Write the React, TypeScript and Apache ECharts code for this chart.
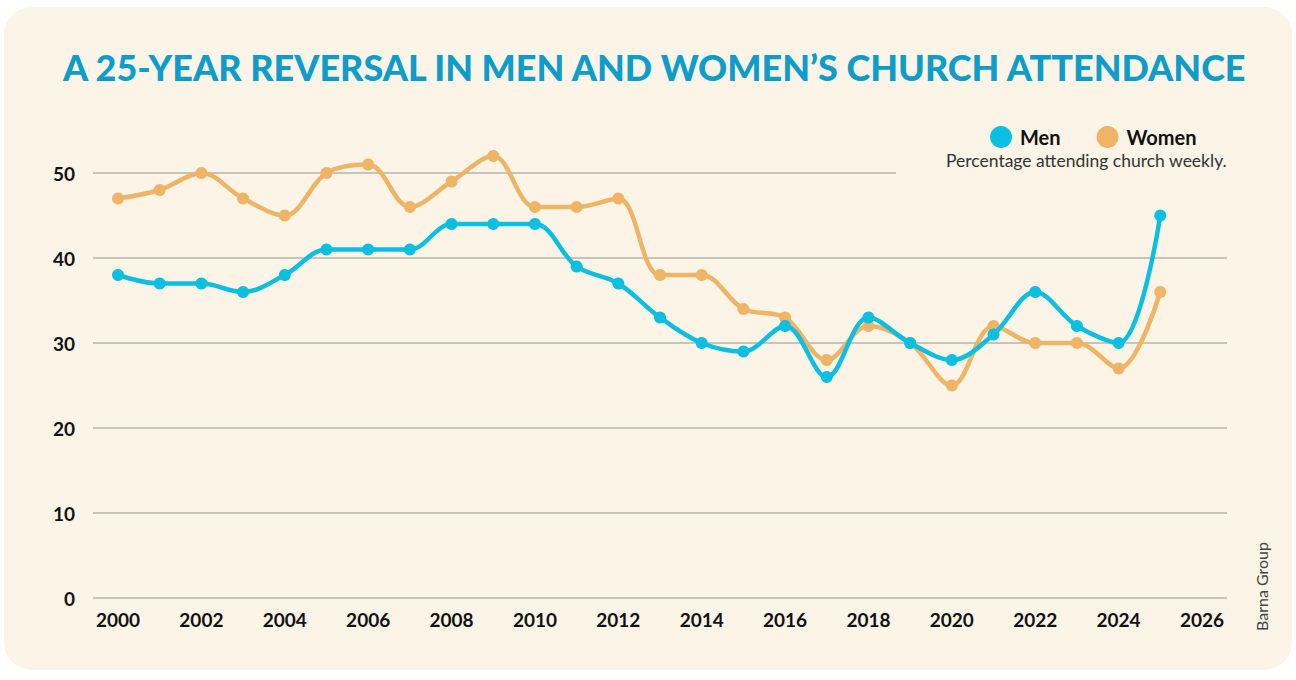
import React, { useEffect, useRef } from "react";
import * as echarts from "echarts";

const years = [2000, 2001, 2002, 2003, 2004, 2005, 2006, 2007, 2008, 2009, 2010, 2011, 2012, 2013, 2014, 2015, 2016, 2017, 2018, 2019, 2020, 2021, 2022, 2023, 2024, 2025];
const men = [38, 37, 37, 36, 38, 41, 41, 41, 44, 44, 44, 39, 37, 33, 30, 29, 32, 26, 33, 30, 28, 31, 36, 32, 30, 45];
const women = [47, 48, 50, 47, 45, 50, 51, 46, 49, 52, 46, 46, 47, 38, 38, 34, 33, 28, 32, 30, 25, 32, 30, 30, 27, 36];
const xTickLabels = [2000, 2002, 2004, 2006, 2008, 2010, 2012, 2014, 2016, 2018, 2020, 2022, 2024, 2026];

const MEN_COLOR = "#0bbfe0";
const WOMEN_COLOR = "#efb466";
const BG = "#fcf4e6";
const FONT = "Lato, 'Open Sans', sans-serif";

export default function App() {
  const ref = useRef<HTMLDivElement>(null);
  useEffect(() => {
    document.body.style.margin = "0";
    document.body.style.background = "#ffffff";
    const chart = echarts.init(ref.current!, null, { renderer: "svg" });
    chart.setOption({
      animation: false,
      title: {
        text: "A 25-YEAR REVERSAL IN MEN AND WOMEN\u2019S CHURCH ATTENDANCE",
        left: 58,
        top: 44,
        textStyle: { fontFamily: FONT, fontSize: 36, fontWeight: 900, color: "#0e9cc9" },
      },
      legend: {
        left: 985,
        top: 121,
        icon: "circle",
        itemWidth: 22,
        itemHeight: 22,
        itemGap: 36,
        textStyle: { fontFamily: FONT, fontSize: 20, fontWeight: "bold", color: "#111", padding: [0, 0, 0, 3] },
        data: ["Men", "Women"],
      },
      grid: { left: 93, right: 69, top: 173, bottom: 82, containLabel: false },
      xAxis: {
        type: "value",
        min: 1999.4,
        max: 2026.6,
        axisLine: { show: false },
        axisTick: { show: false },
        splitLine: { show: false },
        axisLabel: {
          customValues: xTickLabels,
          formatter: (v: number) => String(v),
          margin: 12,
          fontFamily: FONT,
          fontSize: 19,
          fontWeight: "bold",
          color: "#111",
        },
      },
      yAxis: {
        type: "value",
        min: 0,
        max: 50,
        interval: 10,
        axisLine: { show: false },
        axisTick: { show: false },
        splitLine: { lineStyle: { color: "#b9b4ad", width: 1.5 } },
        axisLabel: { margin: 18, fontFamily: FONT, fontSize: 19, fontWeight: "bold", color: "#111" },
      },
      series: [
        {
          name: "Women",
          type: "line",
          data: years.map((y, i) => [y, women[i]]),
          smooth: 0.35,
          clip: false,
          symbol: "circle",
          symbolSize: 12,
          itemStyle: { color: WOMEN_COLOR },
          lineStyle: { color: WOMEN_COLOR, width: 4.5 },
          z: 2,
        },
        {
          name: "Men",
          type: "line",
          data: years.map((y, i) => [y, men[i]]),
          smooth: 0.35,
          clip: false,
          symbol: "circle",
          symbolSize: 12,
          itemStyle: { color: MEN_COLOR },
          lineStyle: { color: MEN_COLOR, width: 4.5 },
          z: 3,
        },
      ],
      graphic: [
        {
          type: "rect",
          z: -100,
          silent: true,
          shape: { x: 4, y: 7, width: 1288, height: 663, r: 28 },
          style: { fill: BG },
        },
        {
          type: "rect",
          z: 1,
          silent: true,
          shape: { x: 896, y: 165, width: 340, height: 16 },
          style: { fill: BG },
        },
        {
          type: "text",
          z: 5,
          x: 946,
          y: 151,
          style: {
            text: "Percentage attending church weekly.",
            fontFamily: FONT,
            fontSize: 17.5,
            fill: "#333",
          },
        },
        {
          type: "text",
          z: 5,
          x: 1253,
          y: 631,
          rotation: Math.PI / 2,
          style: {
            text: "Barna Group",
            fontFamily: FONT,
            fontSize: 16,
            fill: "#444",
          },
        },
      ],
    });
    return () => chart.dispose();
  }, []);
  return <div ref={ref} style={{ width: 1296, height: 680 }} />;
}
